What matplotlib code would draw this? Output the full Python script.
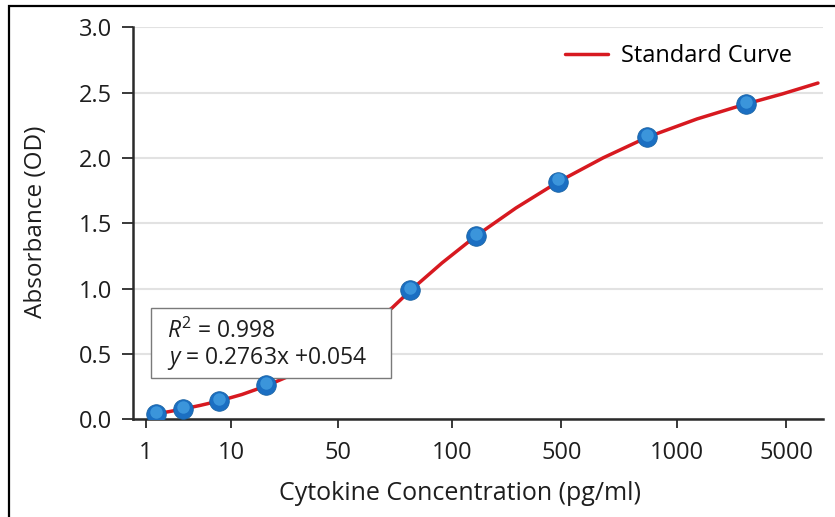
import matplotlib
matplotlib.use("Agg")
import matplotlib.pyplot as plt
from matplotlib.patches import Rectangle
from matplotlib.transforms import ScaledTranslation

plt.rcParams["font.family"] = ["Open Sans", "DejaVu Sans"]
plt.rcParams["mathtext.fontset"] = "custom"
plt.rcParams["mathtext.rm"] = "Open Sans"
plt.rcParams["mathtext.it"] = "Open Sans:italic"

# x positions are in the chart's own (non-linear) axis units
tick_pos = [0.117, 0.902, 1.884, 2.924, 3.930, 4.988, 5.991]
tick_labels = ["1", "10", "50", "100", "500", "1000", "5000"]

point_x = [0.211, 0.459, 0.789, 1.220, 2.541, 3.147, 3.899, 4.716, 5.624]
point_y = [0.04, 0.08, 0.14, 0.26, 0.99, 1.40, 1.82, 2.16, 2.41]

curve_x = [0.211, 0.339, 0.459, 0.615, 0.789, 1.000, 1.220, 1.413, 1.899, 2.376, 2.541,
           2.835, 3.147, 3.514, 3.899, 4.312, 4.725, 5.174, 5.624, 5.954, 6.284]
curve_y = [0.041, 0.060, 0.079, 0.106, 0.140, 0.190, 0.255, 0.324, 0.553, 0.852, 0.983,
           1.197, 1.404, 1.618, 1.817, 2.001, 2.162, 2.299, 2.414, 2.490, 2.574]

fig = plt.figure(figsize=(8.35, 5.17), dpi=100)
ax = fig.add_axes([0.1593, 0.189, 0.8263, 0.758])

red = "#d71920"
ax.plot(curve_x, curve_y, color=red, lw=2.5, zorder=2, label="Standard Curve",
        solid_capstyle="round", solid_joinstyle="round")
ax.scatter(point_x, point_y, s=200, color="#1b6fc2", edgecolor="#16609f", lw=0.5, zorder=5)
shine = ax.transData + ScaledTranslation(0, 1.5 / 72, fig.dpi_scale_trans)
ax.scatter(point_x, point_y, s=80, color="#46a3e4", lw=0, alpha=0.75, zorder=6,
           transform=shine)

box = Rectangle((0.165, 0.316), 2.202, 0.536, facecolor="white", edgecolor="#7a7a7a",
                lw=1.0, zorder=3)
ax.add_patch(box)
ax.text(0.31, 0.672, r"$R^2$ = 0.998", fontsize=16.5, va="center", color="#1e1e1e", zorder=4)
ax.text(0.31, 0.465, r"$y$ = 0.2763x +0.054", fontsize=16.5, va="center", color="#1e1e1e",
        zorder=4)

ax.set_xlim(0, 6.33)
ax.set_ylim(0, 3.0)
ax.set_xticks(tick_pos, tick_labels)
ax.set_yticks([0, 0.5, 1.0, 1.5, 2.0, 2.5, 3.0])
ax.set_yticklabels(["0.0", "0.5", "1.0", "1.5", "2.0", "2.5", "3.0"])
ax.grid(axis="y", color="#e2e2e2", lw=1.5, zorder=0)
ax.set_axisbelow(True)
for s in ["top", "right"]:
    ax.spines[s].set_visible(False)
for s in ["left", "bottom"]:
    ax.spines[s].set_color("#2a2a2a")
    ax.spines[s].set_linewidth(1.8)
ax.tick_params(axis="y", length=8, width=1.3, color="#2a2a2a", labelsize=17, pad=7,
               labelcolor="#1e1e1e")
ax.tick_params(axis="x", length=6.5, width=1.3, color="#2a2a2a", labelsize=17, pad=9,
               labelcolor="#1e1e1e")
ax.set_xlabel("Cytokine Concentration (pg/ml)", fontsize=18, color="#1e1e1e", va="center")
ax.xaxis.set_label_coords(0.474, -0.19)
ax.set_ylabel("Absorbance (OD)", fontsize=17.5, color="#1e1e1e", va="center")
ax.yaxis.set_label_coords(-0.14, 0.505)

ax.legend(loc="center right", bbox_to_anchor=(0.955, 0.927), frameon=False, fontsize=17,
          handlelength=1.8, handletextpad=0.55, borderpad=0, borderaxespad=0)

fig.add_artist(Rectangle((9 / 835, -0.05), 1.2, 1.05 - 6 / 517, transform=fig.transFigure,
                         fill=False, edgecolor="black", lw=1.6))

fig.savefig("out.png", dpi=100)
